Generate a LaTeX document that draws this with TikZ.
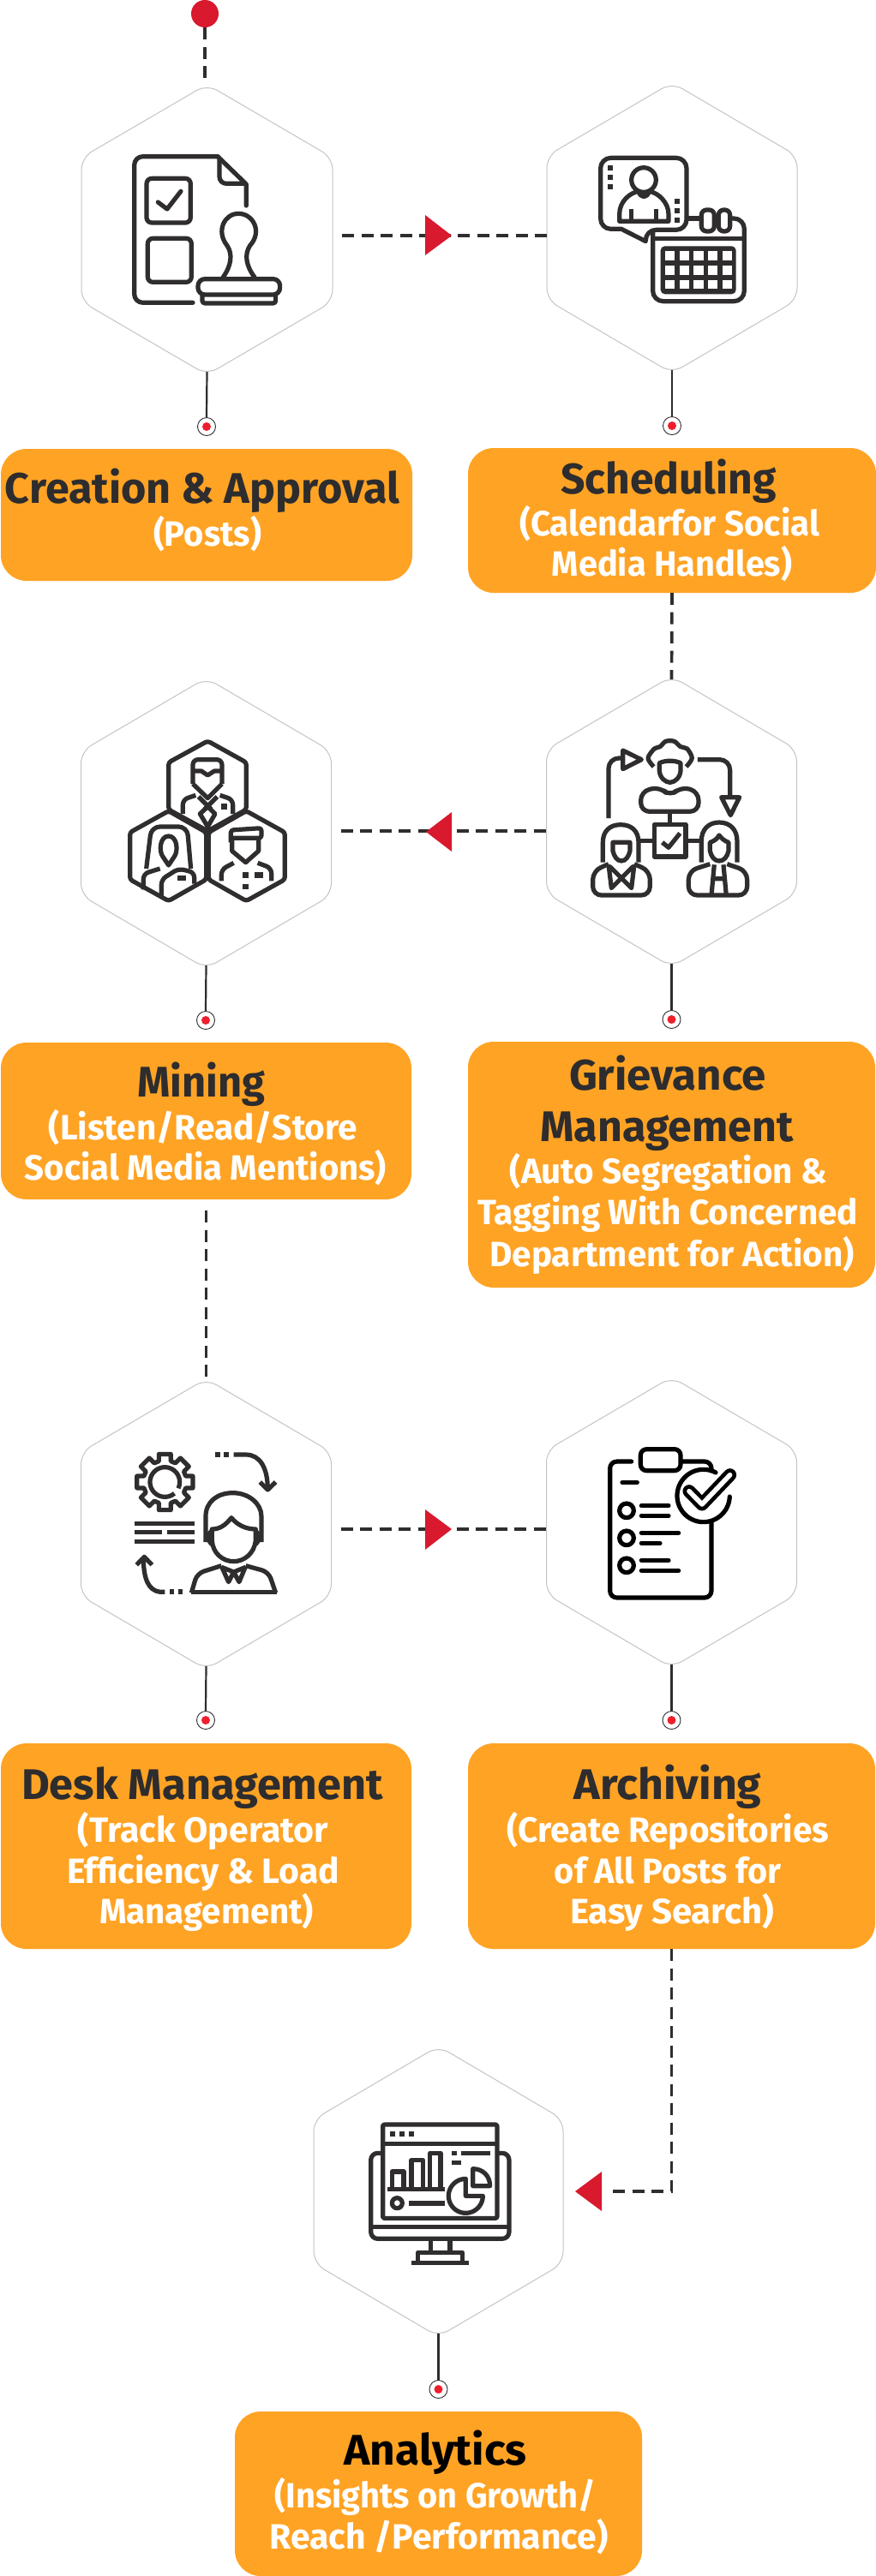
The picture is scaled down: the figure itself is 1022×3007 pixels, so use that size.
\documentclass[tikz,border=0pt]{standalone}
\usepackage{fontspec}
\usepackage{graphicx}
\setmainfont{Fira Sans}
\definecolor{orangefill}{HTML}{FFA324}
\definecolor{icondark}{HTML}{2F2D2E}
\definecolor{titledark}{HTML}{2D2C2E}
\definecolor{redmark}{HTML}{D8192E}
\definecolor{reddot}{HTML}{EE1F2D}
\definecolor{hexgrey}{HTML}{C4C4C4}
\tikzset{
  hexbox/.style={rectangle,inner sep=0pt,outer sep=0pt},
  hexline/.style={draw=hexgrey,line width=1pt,fill=white,rounded corners=14pt},
  orangebox/.style={rectangle,fill=orangefill,rounded corners=30pt,inner sep=0pt,outer sep=0pt},
  dashline/.style={draw=icondark,line width=3.7pt,dash pattern=on 14pt off 8.5pt},
  solidline/.style={draw=icondark,line width=2.2pt},
  pinnode/.style={circle,draw=icondark,line width=0.9pt,fill=white,minimum size=21pt,inner sep=0pt,outer sep=0pt},
  pindot/.style={circle,fill=reddot,minimum size=10pt,inner sep=0pt},
  startdot/.style={circle,fill=redmark,minimum size=32pt,inner sep=0pt,outer sep=0pt},
  redtri/.style={fill=redmark},
  txt/.style={inner sep=0pt,outer sep=0pt,anchor=base,font=\bfseries},
  ic/.style={draw=icondark,line width=5.2pt,line join=round},
  icb/.style={draw=black,line width=5.2pt,line join=round,line cap=round},
  icon/.style={x=0.3333pt,y=-0.3333pt},
}
\newcommand\hexa[5]{%
  \node[hexbox,minimum width=#4pt,minimum height=#5pt] (#1) at (#2,#3) {};
  \draw[hexline] (#2,{#3-#5/2-3.5}) -- ({#2+#4/2},{#3-#5/2+82}) -- ({#2+#4/2},{#3+#5/2-82}) -- (#2,{#3+#5/2+3.5}) -- ({#2-#4/2},{#3+#5/2-82}) -- ({#2-#4/2},{#3-#5/2+82}) -- cycle;
}
\newcommand\obx[5]{%
  \node[orangebox,minimum width={(#4-#2)*1pt},minimum height={(#5-#3)*1pt}] (#1) at ({(#2+#4)/2},{(#3+#5)/2}) {};
}
\newcommand\pinat[3]{%
  \node[pinnode] (#1) at (#2,#3) {};
  \node[pindot] (#1d) at (#2,#3) {};
}
\newcommand\tline[6][titledark]{%
  \node[txt,text=#1] (#2) at (#3,#4) {\resizebox{#5pt}{\height}{\fontsize{50}{50}\selectfont #6}};
}
\newcommand\sline[5]{%
  \node[txt,text=white] (#1) at (#2,#3) {\resizebox{#4pt}{\height}{\fontsize{41}{41}\selectfont #5}};
}
\begin{document}
\begin{tikzpicture}[x=1pt,y=-1pt]
\useasboundingbox (0,0) rectangle (1022,3007);
% boxes
\obx{b1}{1}{524}{481}{678}
\obx{b2}{546}{523}{1022}{692}
\obx{b3}{1}{1217}{480}{1400}
\obx{b4}{546}{1216}{1021}{1503}
\obx{b5}{1}{2035}{480}{2275}
\obx{b6}{546}{2035}{1021}{2275}
\obx{b7}{274}{2815}{749}{3007}
% connectors (under hexagons)
\node[startdot] (s0) at (239,16) {};
\coordinate (a1) at (512,275);
\coordinate (a2) at (512,970);
\coordinate (a3) at (512,1785);
\coordinate (tip7) at (711,2558);
\hexa{h1}{241.5}{268}{293}{332}
\hexa{h2}{784}{266}{292}{332}
\hexa{h3}{240.5}{961}{292}{332}
\hexa{h4}{783.5}{959}{292}{332}
\hexa{h5}{240.5}{1779}{292}{332}
\hexa{h6}{783.5}{1777}{292}{332}
\hexa{h7}{511.5}{2558}{291}{332}
\pinat{c1}{241}{498}
\pinat{c2}{784}{497}
\pinat{c3}{240}{1191}
\pinat{c4}{783.5}{1190}
\pinat{c5}{240}{2008}
\pinat{c6}{783.5}{2008}
\pinat{c7}{511.5}{2789}
\foreach \i in {1,...,7}{\draw[solidline] (h\i.south) -- (c\i.north);}
\draw[dashline,shorten >=9pt] (s0.south) -- (s0.south |- h1.north);
\draw[dashline,shorten <=11pt] (h1.east |- a1) -- (h2.west |- a1);
\draw[dashline] (b2.south) -- (h4.north);
\draw[dashline,shorten <=11pt] (h3.east |- a2) -- (h4.west |- a2);
\draw[dashline,shorten <=13pt] (b3.south) -- (h5.north);
\draw[dashline,shorten <=11pt] (h5.east |- a3) -- (h6.west |- a3);
\draw[dashline] (b6.south) |- (tip7);
% triangles
\fill[redtri] (496,251) -- (527,275) -- (496,298) -- cycle;
\fill[redtri] (527,948) -- (497,971) -- (527,994) -- cycle;
\fill[redtri] (496,1762) -- (527,1785) -- (496,1809) -- cycle;
\fill[redtri] (702,2535) -- (671,2558) -- (702,2581) -- cycle;
% text
\tline{t1a}{236}{587}{460}{Creation \& Approval}
\sline{t1b}{242}{637}{126}{(Posts)}
\tline{t2a}{780}{576}{252}{Scheduling}
\sline{t2b}{781}{625}{350}{(Calendarfor Social}
\sline{t2c}{784}{672}{280}{Media Handles)}
\tline{t3a}{235}{1280}{149}{Mining}
\sline{t3b}{237}{1330}{360}{(Listen/Read/Store}
\sline{t3c}{240}{1377}{422}{Social Media Mentions)}
\tline{t4a}{779}{1272}{230}{Grievance}
\tline{t4b}{778}{1332}{295}{Management}
\sline{t4c}{780}{1381}{370}{(Auto Segregation \&}
\sline{t4d}{779}{1429}{444}{Tagging With Concerned}
\sline{t4e}{784}{1478}{425}{Department for Action)}
\tline{t5a}{236}{2100}{422}{Desk Management}
\sline{t5b}{237}{2150}{292}{(Track Operator}
\sline{t5c}{237}{2198}{318}{Efficiency \& Load}
\sline{t5d}{241}{2245}{250}{Management)}
\tline{t6a}{779}{2100}{219}{Archiving}
\sline{t6b}{779}{2150}{376}{(Create Repositories}
\sline{t6c}{779}{2198}{264}{of All Posts for}
\sline{t6d}{784}{2245}{238}{Easy Search)}
\tline[black]{t7a}{508}{2877}{213}{Analytics}
\sline{t7b}{508}{2927}{375}{(Insights on Growth/}
\sline{t7c}{512}{2975}{395}{Reach /Performance)}
% ---- icon 1
\begin{scope}[shift={(130,160)},icon]
\draw[ic,line cap=round,rounded corners=10pt] (285,580) -- (80,580) -- (80,68) -- (372,68);
\draw[ic,line cap=round] (372,68) -- (472,165) -- (472,240);
\draw[ic,rounded corners=8pt] (378,72) -- (378,163) -- (470,163);
\draw[ic,rounded corners=6pt] (123,145) rectangle (277,300);
\draw[ic,line cap=round] (163,228) -- (195,252) -- (243,190);
\draw[ic,rounded corners=6pt] (127,355) rectangle (280,508);
\draw[ic] (390,492) .. controls (420,450) and (425,410) .. (405,380) .. controls (365,330) and (395,268) .. (445,268) .. controls (495,268) and (530,330) .. (485,380) .. controls (465,410) and (470,450) .. (502,492);
\draw[ic,rounded corners=8pt] (303,497) rectangle (590,552);
\draw[ic,rounded corners=3pt] (318,555) -- (318,582) -- (575,582) -- (575,555);
\end{scope}
% ---- icon 2
\begin{scope}[shift={(670,170)},icon]
\draw[ic] (165,292) [rounded corners=12pt] -- (92,292) -- (92,43) -- (393,43) -- (393,295) -- (250,295) [sharp corners] -- (250,335) -- cycle;
\foreach \y in {70,103,136}{\fill[icondark] (118,\y) rectangle (136,\y+18);}
\foreach \y in {186,220,253}{\fill[icondark] (351,\y) rectangle (369,\y+18);}
\draw[ic] (243,120) circle [radius=43];
\draw[ic] (158,265) -- (158,240) .. controls (158,195) and (195,165) .. (225,160) .. controls (232,185) and (255,185) .. (262,160) .. controls (295,165) and (330,200) .. (330,240) -- (330,265) -- cycle;
\draw[ic] (200,222) -- (200,265) (286,222) -- (286,265);
\draw[ic,rounded corners=12pt] (275,300) -- (275,545) -- (595,545) -- (595,255) -- (550,255);
\draw[ic] (400,255) -- (445,255) (490,255) -- (505,255);
\draw[ic,rounded corners=6pt] (445,225) rectangle (490,300);
\draw[ic,rounded corners=6pt] (505,225) rectangle (545,300);
\draw[ic] (275,325) -- (595,325);
\fill[icondark,rounded corners=5pt] (302,352) rectangle (566,520);
\foreach \y in {370,420,470}{\foreach \x in {318,368,418,468,518}{\fill[white] (\x,\y) rectangle (\x+34,\y+32);}}
\end{scope}
% ---- icon 3
\begin{scope}[shift={(130,850)},icon]
\draw[ic,rounded corners=3pt] (337,45) -- (472,120) -- (472,285) -- (337,360) -- (200,285) -- (200,120) -- cycle;
\draw[ic,rounded corners=3pt] (200,290) -- (332,365) -- (332,530) -- (200,605) -- (65,530) -- (65,365) -- cycle;
\draw[ic,rounded corners=3pt] (472,290) -- (607,365) -- (607,530) -- (472,605) -- (340,530) -- (340,365) -- cycle;
\draw[ic,rounded corners=6pt] (285,195) -- (285,110) -- (387,110) -- (387,195);
\draw[ic] (285,150) -- (315,150) -- (337,165) -- (360,150) -- (387,150);
\draw[ic] (285,195) -- (337,245) -- (387,195);
\draw[ic,rounded corners=6pt] (250,300) -- (250,250) -- (295,235);
\draw[ic,rounded corners=6pt] (380,235) -- (425,250) -- (425,300);
\draw[ic] (337,275) -- (310,300) -- (337,345) -- (363,300) -- cycle;
\draw[ic] (305,240) -- (350,285) (370,240) -- (325,285);
\fill[icondark] (385,265) rectangle (405,285);
\draw[ic,rounded corners=10pt] (122,492) -- (132,410) -- (140,345) -- (265,345) -- (278,492);
\draw[ic] (200,378) .. controls (170,378) and (165,430) .. (180,450) -- (200,480) -- (220,450) .. controls (235,430) and (230,378) .. (200,378) -- cycle;
\draw[ic,rounded corners=6pt] (112,565) -- (112,510) -- (170,492);
\draw[ic,rounded corners=6pt] (175,590) -- (175,530) -- (235,492) -- (290,505) -- (290,545);
\fill[icondark] (232,515) rectangle (262,535);
\draw[ic,rounded corners=3pt] (418,400) -- (418,357) -- (525,350) -- (525,385) -- (418,385);
\draw[ic] (422,385) -- (422,430) -- (470,470) -- (515,430) -- (515,385);
\draw[ic,rounded corners=6pt] (385,535) -- (385,495) -- (428,472);
\draw[ic,rounded corners=6pt] (512,472) -- (560,490) -- (560,535);
\fill[icondark] (460,505) rectangle (480,525);
\fill[icondark] (500,505) rectangle (530,525);
\fill[icondark] (460,545) rectangle (480,565);
\end{scope}
% ---- icon 4
\begin{scope}[shift={(670,850)},icon]
\draw[ic,rounded corners=12pt] (120,315) -- (120,105) -- (170,105);
\draw[ic] (170,78) -- (235,110) -- (170,143) -- cycle;
\draw[ic,rounded corners=12pt] (432,110) -- (545,110) -- (545,240);
\draw[ic] (515,242) -- (578,242) -- (547,305) -- cycle;
\draw[ic] plot[smooth] coordinates {(278,135) (258,105) (280,72) (300,65) (320,46) (350,46) (372,65) (395,72) (412,105) (392,135)};
\draw[ic] (298,122) -- (298,150) .. controls (300,175) and (320,190) .. (335,190) .. controls (350,190) and (370,175) .. (372,150) -- (372,122) .. controls (350,112) and (320,112) .. (298,122) -- cycle;
\draw[ic,rounded corners=10pt] (233,292) -- (233,222) -- (300,205) -- (335,240) -- (372,205) -- (435,222) -- (435,292) -- cycle;
\draw[ic] (335,295) -- (335,337);
\draw[ic] (280,337) rectangle (390,450);
\draw[ic] (308,400) -- (330,418) -- (370,368);
\draw[ic] (230,395) -- (280,395) (390,395) -- (440,395);
\draw[ic] (100,470) -- (100,400) .. controls (100,360) and (125,338) .. (162,338) .. controls (200,338) and (225,360) .. (225,400) -- (225,470);
\draw[ic] (135,400) -- (135,430) .. controls (140,450) and (150,465) .. (165,465) .. controls (180,465) and (190,450) .. (195,430) -- (195,400) -- cycle;
\draw[ic,rounded corners=10pt] (120,476) -- (65,500) -- (65,585) -- (265,585) -- (265,500) -- (210,476);
\draw[ic] (120,478) -- (130,560) -- (165,525) -- (200,560) -- (210,478) (125,485) -- (165,525) -- (205,485);
\draw[ic] (445,470) -- (445,395) .. controls (445,355) and (470,330) .. (507,330) .. controls (545,330) and (570,355) .. (570,395) -- (570,470);
\draw[ic] (475,400) -- (475,430) .. controls (480,450) and (490,465) .. (507,465) .. controls (525,465) and (535,450) .. (540,430) -- (540,400) .. controls (525,395) and (515,385) .. (507,375) .. controls (500,388) and (490,395) .. (475,400) -- cycle;
\draw[ic,rounded corners=10pt] (475,476) -- (400,500) -- (400,585) -- (605,585) -- (605,500) -- (535,476);
\draw[ic] (490,478) -- (480,585) (522,478) -- (532,585) (482,527) -- (530,527);
\end{scope}
% ---- icon 5
\begin{scope}[shift={(130,1670)},icon]
\draw[ic,shift={(187,180)}] (-12:100) \foreach \a in {0,45,...,315}{ -- (\a-12:100) -- (\a+12:100) -- (\a+16:76) -- (\a+29:76)} -- cycle;
\draw[ic,shift={(187,180)}] plot[domain=50:385,samples=40,smooth] (\x:52);
\fill[icondark] (363,75) rectangle (380,93);
\fill[icondark] (393,75) rectangle (412,93);
\draw[ic] (428,84) -- (470,84) .. controls (520,84) and (547,130) .. (547,205);
\draw[ic] (520,180) -- (547,207) -- (575,180);
\fill[icondark] (82,317) rectangle (292,333);
\fill[icondark] (82,348) rectangle (178,364);
\fill[icondark] (195,348) rectangle (292,364);
\fill[icondark] (82,380) rectangle (292,396);
\fill[icondark] (203,556) rectangle (220,574);
\fill[icondark] (233,556) rectangle (250,574);
\draw[ic] (187,565) -- (170,565) .. controls (130,560) and (112,520) .. (112,445);
\draw[ic] (88,470) -- (115,442) -- (142,470);
\draw[ic] (330,390) -- (330,300) .. controls (330,250) and (370,218) .. (425,218) .. controls (480,218) and (525,255) .. (525,300) -- (525,390);
\draw[ic] (352,345) .. controls (380,345) and (400,330) .. (420,305) .. controls (440,330) and (470,345) .. (505,345) -- (505,385) .. controls (500,430) and (465,458) .. (428,458) .. controls (390,458) and (355,430) .. (352,385) -- cycle;
\draw[ic] (350,352) .. controls (335,360) and (335,385) .. (352,398);
\draw[ic] (505,352) .. controls (520,360) and (520,385) .. (505,398);
\draw[ic,rounded corners=8pt] (280,568) -- (300,500) -- (385,473) ;
\draw[ic,rounded corners=8pt] (470,473) -- (550,495) -- (575,568);
\draw[ic] (278,565) -- (580,565);
\draw[ic] (385,475) -- (410,530) -- (428,495) -- (447,530) -- (470,475) (385,478) -- (428,495) -- (470,478);
\end{scope}
% ---- icon 6
\begin{scope}[shift={(670,1670)},icon]
\draw[icb,rounded corners=8pt] (200,108) -- (125,108) -- (125,585) -- (480,585) -- (480,320);
\draw[icb,rounded corners=8pt] (375,108) -- (480,108) -- (480,135);
\draw[icb,rounded corners=7pt] (232,65) rectangle (372,140);
\draw[icb] (168,181) -- (220,181);
\foreach \y in {280,376,472}{\draw[icb] (183,\y) circle [radius=25];}
\draw[icb] (235,263) -- (330,263) (235,298) -- (330,298) (235,358) -- (365,358) (235,394) -- (300,394) (235,454) -- (330,454) (235,490) -- (365,490);
\draw[icb,shift={(452,228)}] plot[domain=2:298,samples=50,smooth] (\x:92);
\draw[black,line width=15pt,line cap=round,line join=round] (402,212) -- (447,258) -- (545,155);
\draw[white,line width=5.6pt,line cap=round,line join=round] (402,212) -- (447,258) -- (545,155);
\end{scope}
% ---- icon 7
\begin{scope}[shift={(400,2450)},icon]
\draw[ic,rounded corners=2pt] (140,90) rectangle (540,418);
\draw[ic] (140,157) -- (540,157);
\foreach \x in {165,198,232}{\fill[icondark] (\x,115) rectangle (\x+17,133);}
\draw[ic,rounded corners=8pt] (135,190) -- (98,190) -- (98,490) -- (582,490) -- (582,190) -- (545,190);
\draw[ic] (98,448) -- (582,448);
\draw[ic] (307,490) -- (307,538) (375,490) -- (375,538);
\draw[ic] (262,570) -- (262,538) -- (418,538) -- (418,570);
\fill[icondark] (240,566) rectangle (440,582);
\draw[ic] (157,316) -- (357,316);
\draw[ic] (172,316) -- (172,255) -- (213,255) -- (213,316);
\draw[ic] (240,316) -- (240,215) -- (280,215) -- (280,316);
\draw[ic] (305,316) -- (305,190) -- (342,190) -- (342,316);
\draw[ic] (190,365) circle [radius=18];
\fill[icondark] (232,358) rectangle (357,374);
\fill[icondark] (382,183) rectangle (398,199);
\fill[icondark] (415,183) rectangle (515,199);
\fill[icondark] (382,215) rectangle (414,231);
\draw[ic,shift={(430,340)}] plot[domain=0:270,samples=40,smooth] (\x:60) -- (0,0) -- cycle;
\draw[ic] (455,245) .. controls (490,245) and (515,270) .. (515,305) -- (455,305) -- cycle;
\end{scope}
\end{tikzpicture}
\end{document}
